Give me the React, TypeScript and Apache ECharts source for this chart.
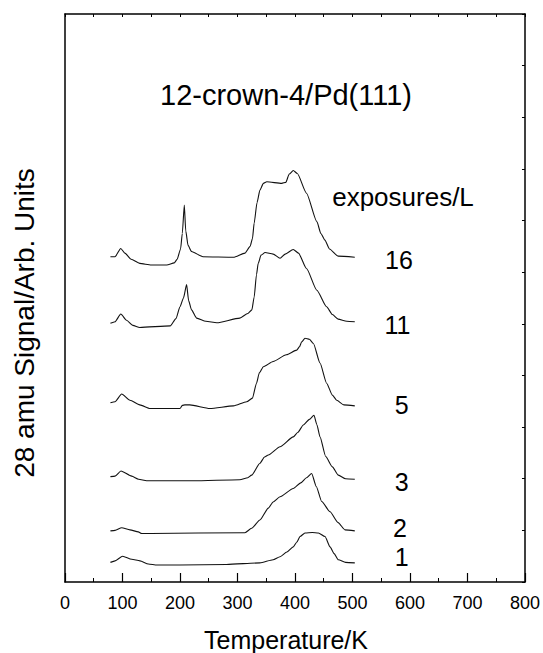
import React, { useEffect, useRef } from "react";
import * as echarts from "echarts";

// Temperature (K) vs 28 amu signal (arb. units, curves offset as in the figure)
const curve16: [number, number][] = [
  [79, 6.3], [87, 6.3], [97, 6.46], [104, 6.37], [115, 6.25], [130, 6.17], [150, 6.14], [177, 6.14], [190, 6.18],
  [195, 6.25], [201, 6.45], [204, 6.75], [207.5, 7.3], [210, 6.8], [214, 6.52], [220, 6.4], [240, 6.3], [293, 6.29], [313, 6.37],
  [322, 6.5], [326, 6.65], [329, 6.95], [334, 7.35], [339, 7.59], [345, 7.72], [351, 7.75], [377, 7.72], [384, 7.74], [390, 7.9], [397, 7.97],
  [404, 7.91], [420, 7.53], [438, 6.98], [445, 6.75], [452, 6.62], [460, 6.45], [475, 6.31], [504, 6.29],
];
const curve11: [number, number][] = [
  [79, 5.01], [87, 5.04], [97, 5.19], [107, 5.07], [118, 4.97], [130, 4.93], [183, 4.96], [193, 5.1], [200, 5.33],
  [206, 5.5], [211.5, 5.76], [215, 5.45], [220, 5.27], [229, 5.11], [245, 5.05], [264, 5.02], [304, 5.11], [318, 5.2], [325, 5.27], [329, 5.52],
  [333, 5.95], [336, 6.17], [341, 6.33], [348, 6.38], [362, 6.35], [374, 6.27], [383, 6.35], [397, 6.44], [406, 6.37],
  [420, 6.07], [438, 5.65], [455, 5.33], [465, 5.18], [475, 5.09], [490, 5.05], [504, 5.04],
];
const curve5: [number, number][] = [
  [79, 3.47], [87, 3.49], [98.6, 3.64], [113, 3.52], [130, 3.43], [148, 3.36], [200, 3.36], [204, 3.42], [208.7, 3.43],
  [217, 3.43], [252, 3.36], [293, 3.41], [316, 3.49], [326, 3.56], [333, 3.85], [338, 4.05], [345, 4.17],
  [362, 4.27], [385, 4.4], [403, 4.49], [408, 4.56], [411.6, 4.65], [417.4, 4.72], [425, 4.7], [432, 4.62], [443.5, 4.24],
  [455, 3.85], [465, 3.62], [472.5, 3.52], [485, 3.43], [504, 3.41],
];
const curve3: [number, number][] = [
  [79, 2.04], [87, 2.05], [97.4, 2.15], [116, 2.05], [128, 1.99], [142, 1.96], [223, 1.96], [304, 1.98],
  [318, 2.02], [324.6, 2.07], [339, 2.3], [347, 2.42], [353.6, 2.46], [374, 2.62], [397, 2.81], [405, 2.9], [414.5, 3.04], [425, 3.15], [433, 3.23],
  [438, 3.05], [443.5, 2.81], [453.4, 2.43], [465, 2.23], [475.4, 2.07], [488, 2.0], [504, 1.99],
];
const curve2: [number, number][] = [
  [79, 0.99], [87, 1.0], [98.6, 1.05], [113, 1.01], [127.5, 0.97], [133.3, 0.94], [150, 0.94], [313, 0.955],
  [324.6, 1.04], [339, 1.2], [353.6, 1.43], [362, 1.55], [374, 1.65], [397, 1.81], [410, 1.92], [420, 2.02], [429, 2.1], [437, 1.85], [446.4, 1.56],
  [461, 1.36], [475, 1.15], [487, 1.01], [504, 0.99],
];
const curve1: [number, number][] = [
  [79, 0.38], [87, 0.41], [100.3, 0.5], [116, 0.44], [130.4, 0.41], [145, 0.35], [160, 0.33], [200, 0.33],
  [281, 0.34], [339, 0.37], [362, 0.43], [374, 0.49], [386, 0.58], [397, 0.68], [403, 0.77], [408.7, 0.88], [417.4, 0.95],
  [430, 0.96], [440.6, 0.95], [452.2, 0.88], [461, 0.68], [468, 0.55], [475.4, 0.43], [488, 0.38], [504, 0.37],
];

const curves = [curve16, curve11, curve5, curve3, curve2, curve1];
const exposureLabels = ["16", "11", "5", "3", "2", "1"];
const titleText = "12-crown-4/Pd(111)";
const legendTitle = "exposures/L";
const xTitle = "Temperature/K";
const yTitle = "28 amu Signal/Arb. Units";

const FONT = '"Liberation Sans", Arial, Helvetica, sans-serif';

export default function App() {
  const ref = useRef<HTMLDivElement>(null);
  useEffect(() => {
    document.body.style.margin = "0";
    if (!ref.current) return;
    const chart = echarts.init(ref.current, null, { renderer: "svg" });
    const labelPos = [
      [399, 260], [397.5, 325], [401.7, 405], [401.7, 482], [400, 528], [401.7, 557],
    ];
    const frameLine = { show: true, onZero: false, lineStyle: { color: "#000", width: 1.5 } };
    chart.setOption({
      animation: false,
      backgroundColor: "#fff",
      grid: { left: 65, right: 18, top: 14, bottom: 71, containLabel: false },
      xAxis: [
        {
          type: "value", min: 0, max: 800, interval: 100, position: "bottom",
          axisLine: frameLine,
          axisTick: { show: true, inside: true, length: 9, lineStyle: { color: "#000", width: 1.2 } },
          minorTick: { show: true, splitNumber: 2, length: 4, lineStyle: { color: "#000", width: 1 } },
          axisLabel: { show: true, fontSize: 18, color: "#000", margin: 12, fontFamily: FONT },
          splitLine: { show: false },
        },
        {
          type: "value", min: 0, max: 800, interval: 50, position: "top",
          axisLine: frameLine,
          axisTick: { show: true, inside: true, length: 3, lineStyle: { color: "#000", width: 1 } },
          axisLabel: { show: false },
          splitLine: { show: false },
        },
      ],
      yAxis: [
        {
          type: "value", min: 0, max: 11, interval: 1, position: "left",
          axisLine: frameLine,
          axisTick: { show: false },
          axisLabel: { show: false },
          splitLine: { show: false },
        },
        {
          type: "value", min: 0, max: 11, interval: 1, position: "right",
          axisLine: frameLine,
          axisTick: { show: true, inside: true, length: 3, lineStyle: { color: "#000", width: 1 } },
          axisLabel: { show: false },
          splitLine: { show: false },
        },
      ],
      series: curves.map((c, i) => ({
        type: "line",
        name: exposureLabels[i],
        xAxisIndex: 0,
        yAxisIndex: 0,
        data: c,
        showSymbol: false,
        symbol: "none",
        smooth: 0.2,
        smoothMonotone: "x",
        lineStyle: { color: "#111", width: 1.1 },
        silent: true,
      })),
      graphic: [
        {
          type: "text", x: 286, y: 95,
          style: { text: titleText, fontSize: 29, fill: "#000", fontFamily: FONT, align: "center", verticalAlign: "middle" },
        },
        {
          type: "text", x: 403, y: 197,
          style: { text: legendTitle, fontSize: 26, fill: "#000", fontFamily: FONT, align: "center", verticalAlign: "middle" },
        },
        ...exposureLabels.map((t, i) => ({
          type: "text", x: labelPos[i][0], y: labelPos[i][1],
          style: { text: t, fontSize: 25, fill: "#000", fontFamily: FONT, align: "center", verticalAlign: "middle" },
        })),
        {
          type: "text", x: 286, y: 640,
          style: { text: xTitle, fontSize: 25, fill: "#000", fontFamily: FONT, align: "center", verticalAlign: "middle" },
        },
        {
          type: "text", x: 24, y: 323, rotation: Math.PI / 2,
          style: { text: yTitle, fontSize: 28, fill: "#000", fontFamily: FONT, align: "center", verticalAlign: "middle" },
        },
      ],
    });
    return () => chart.dispose();
  }, []);
  return <div ref={ref} style={{ width: 543, height: 653 }} />;
}
